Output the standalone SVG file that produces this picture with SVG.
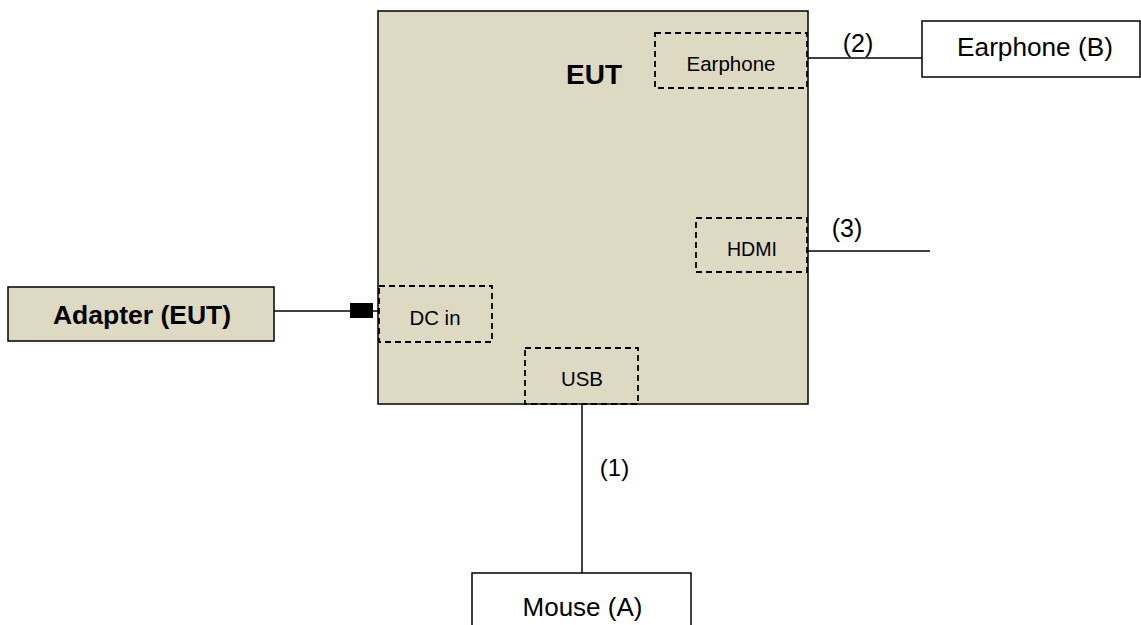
<svg xmlns="http://www.w3.org/2000/svg" width="1141" height="625" viewBox="0 0 1141 625">
<style>
text{font-family:"Liberation Sans",Arial,sans-serif;fill:#000;text-anchor:middle}
.box{fill:#DDD9C3;stroke:#000;stroke-width:1.5}
.wbox{fill:#fff;stroke:#000;stroke-width:1.5}
.port{fill:none;stroke:#000;stroke-width:1.8;stroke-dasharray:6,4}
.ln{stroke:#000;stroke-width:1.5;fill:none}
</style>
<rect width="1141" height="625" fill="#fff"/>
<g id="eut">
<rect class="box" x="378" y="11" width="430" height="393"/>
<text x="594" y="84" font-size="28" font-weight="bold">EUT</text>
</g>
<g id="port-earphone">
<rect class="port" x="655" y="33" width="152" height="55"/>
<text x="731" y="71" font-size="20.5">Earphone</text>
</g>
<g id="port-hdmi">
<rect class="port" x="696" y="218" width="111" height="54"/>
<text x="752" y="256" font-size="19.6">HDMI</text>
</g>
<g id="port-dcin">
<rect class="port" x="379" y="286" width="113" height="56"/>
<text x="435" y="325" font-size="20.4">DC in</text>
</g>
<g id="port-usb">
<rect class="port" x="525" y="348" width="113" height="56"/>
<text x="582" y="386" font-size="20.4">USB</text>
</g>
<g id="adapter">
<rect class="box" x="8" y="287" width="266" height="54"/>
<text x="142" y="324" font-size="26.5" font-weight="bold">Adapter (EUT)</text>
</g>
<g id="earphone-b">
<rect class="wbox" x="922" y="21" width="218" height="56"/>
<text x="1035" y="56" font-size="26.2">Earphone (B)</text>
</g>
<g id="mouse-a">
<rect class="wbox" x="472" y="573" width="219" height="60"/>
<text x="582.5" y="616" font-size="26">Mouse (A)</text>
</g>
<g id="connectors">
<line class="ln" x1="808" y1="58" x2="922" y2="58"/>
<line class="ln" x1="808" y1="251" x2="930" y2="251"/>
<line class="ln" x1="274" y1="311" x2="378" y2="311"/>
<rect x="350" y="303" width="23" height="15" fill="#000"/>
<line class="ln" x1="582" y1="404" x2="582" y2="573"/>
<text x="858" y="52" font-size="25">(2)</text>
<text x="847" y="237" font-size="25">(3)</text>
<text x="614.5" y="476" font-size="24">(1)</text>
</g>
</svg>
